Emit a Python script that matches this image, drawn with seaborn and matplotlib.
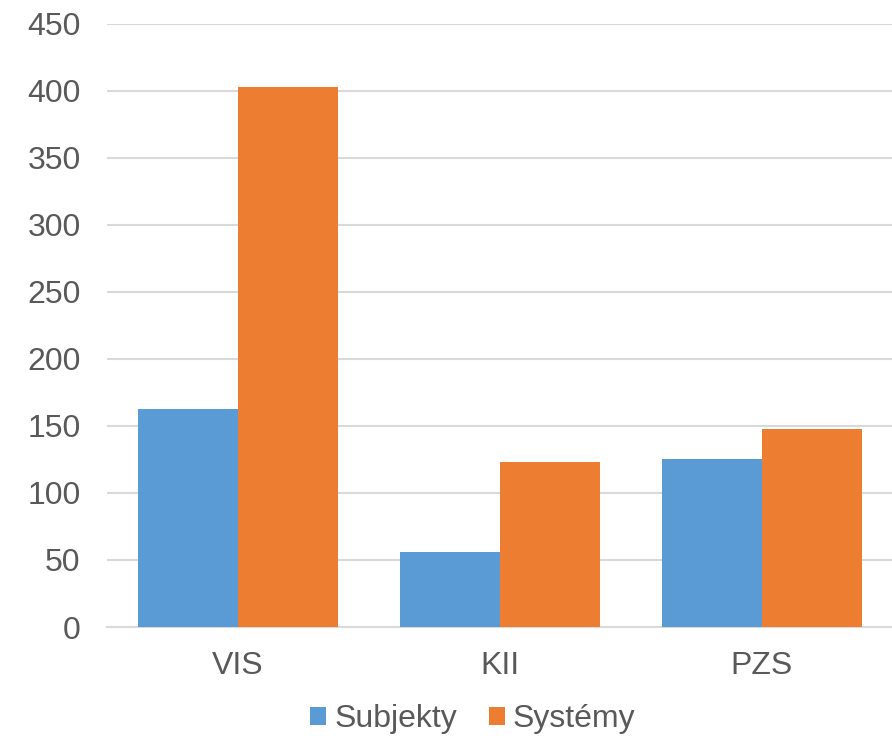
import matplotlib
matplotlib.use("Agg")
import matplotlib.pyplot as plt
import seaborn as sns
import pandas as pd
from matplotlib.patches import Patch

categories = ["VIS", "KII", "PZS"]
series_names = ["Subjekty", "Systémy"]
subjekty = [163, 56, 125]
systemy = [403, 123, 148]
y_ticks = [0, 50, 100, 150, 200, 250, 300, 350, 400, 450]

colors = ["#5b9bd5", "#ed7d31"]
text_color = "#595959"
grid_color = "#d9d9d9"

df = pd.DataFrame({
    "kategorie": categories * 2,
    "rada": [series_names[0]] * 3 + [series_names[1]] * 3,
    "pocet": subjekty + systemy,
})

sns.set_theme(style="white")
plt.rcParams["font.family"] = ["Liberation Sans", "DejaVu Sans"]

fig = plt.figure(figsize=(8.92, 7.4), dpi=100)
ax = fig.add_axes([0.12, 0.1527, 0.881, 0.815])

sns.barplot(data=df, x="kategorie", y="pocet", hue="rada", order=categories,
            hue_order=series_names, palette=colors, width=0.763, gap=0,
            saturation=1, linewidth=0, ax=ax, legend=False, zorder=3)

ax.set_ylim(0, 450)
ax.set_xlim(-0.5, 2.5)
ax.set_yticks(y_ticks)
ax.yaxis.grid(True, color=grid_color, linewidth=1.5, zorder=0)
ax.set_axisbelow(True)
for side in ["left", "right", "top"]:
    ax.spines[side].set_visible(False)
ax.spines["bottom"].set_color(grid_color)
ax.spines["bottom"].set_linewidth(1.5)
ax.tick_params(axis="both", length=0, labelsize=23, colors=text_color)
ax.tick_params(axis="y", pad=19)
ax.tick_params(axis="x", pad=17)
ax.set_xlabel("")
ax.set_ylabel("")

handles = [Patch(facecolor=c, edgecolor="none", label=n) for c, n in zip(colors, series_names)]
fig.legend(handles=handles, loc="center", bbox_to_anchor=(0.53, 0.028), ncol=2,
           frameon=False, fontsize=23, handlelength=0.5, handleheight=0.5,
           handletextpad=0.25, columnspacing=1.0, labelcolor=text_color)

fig.savefig("out.png", dpi=100)
